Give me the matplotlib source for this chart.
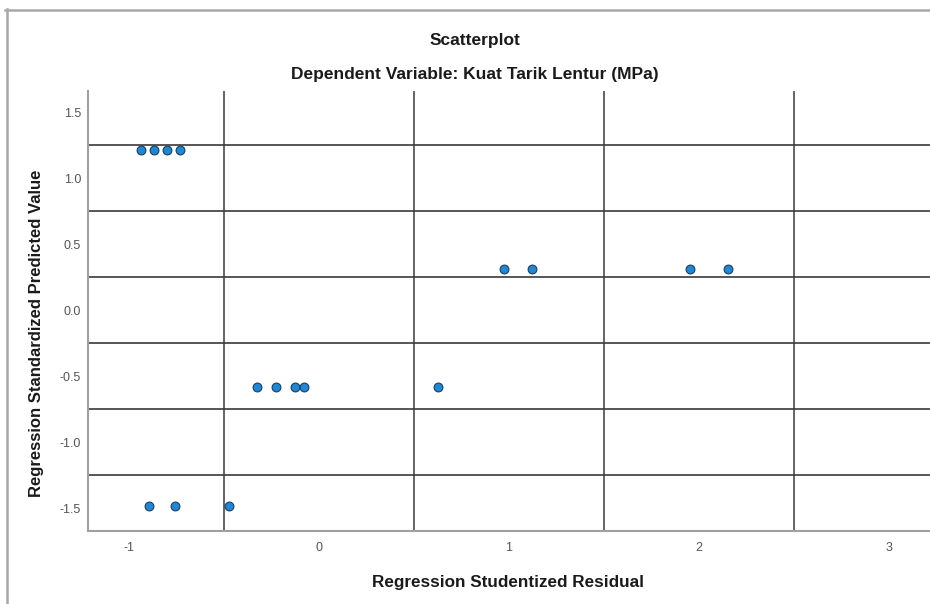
import matplotlib
matplotlib.use("Agg")
import matplotlib.pyplot as plt
from matplotlib.lines import Line2D

plt.rcParams['font.family'] = ['Liberation Sans', 'DejaVu Sans']

# studentized residual (x) vs standardized predicted value (y)
resid = [-0.937, -0.870, -0.802, -0.733,
         0.975, 1.121, 1.954, 2.151,
         -0.325, -0.225, -0.128, -0.077, 0.626,
         -0.896, -0.756, -0.474]
pred = [1.214, 1.214, 1.214, 1.214,
        0.313, 0.313, 0.313, 0.313,
        -0.583, -0.583, -0.583, -0.583, -0.583,
        -1.483, -1.483, -1.483]

xticks = [-1, 0, 1, 2, 3]
yticks = [-1.5, -1.0, -0.5, 0.0, 0.5, 1.0, 1.5]
xgrid = [-0.5, 0.5, 1.5, 2.5]
ygrid = [-1.25, -0.75, -0.25, 0.25, 0.75, 1.25]

W, H = 930, 604
fig = plt.figure(figsize=(W / 100, H / 100), dpi=100)
ax = fig.add_axes([88 / W, 1 - 531 / H, (W - 88) / W, (531 - 91) / H])

for g in xgrid:
    ax.axvline(g, color='#4a4a4a', lw=1.2, zorder=1)
for g in ygrid:
    ax.axhline(g, color='#3a3a3a', lw=1.2, zorder=1)

ax.scatter(resid, pred, s=40, c='#1e88d8', edgecolors='#1b3d5e',
           linewidths=0.8, zorder=3)

ax.set_xlim(-1.216, 3.216)
ax.set_ylim(-1.672, 1.661)
ax.set_xticks(xticks)
ax.set_xticklabels([str(t) for t in xticks])
ax.set_yticks(yticks)
ax.set_yticklabels(['%.1f' % t for t in yticks])
ax.tick_params(length=0, labelsize=9, colors='#555555')
ax.tick_params(axis='x', pad=8)
ax.tick_params(axis='y', pad=5)

for side in ['top', 'right']:
    ax.spines[side].set_visible(False)
for side in ['left', 'bottom']:
    ax.spines[side].set_color('#a0a0a0')
    ax.spines[side].set_linewidth(1.5)

fig.text(475 / W, 1 - 40 / H, 'Scatterplot', ha='center', va='center',
         fontsize=12.5, fontweight='bold', color='#1a1a1a')
fig.text(475 / W, 1 - 74 / H, 'Dependent Variable: Kuat Tarik Lentur (MPa)',
         ha='center', va='center', fontsize=12.5, fontweight='bold',
         color='#1a1a1a')
fig.text(508 / W, 1 - 582 / H, 'Regression Studentized Residual',
         ha='center', va='center', fontsize=12.3, fontweight='bold',
         color='#1a1a1a')
fig.text(36 / W, 1 - 333 / H, 'Regression Standardized Predicted Value',
         ha='center', va='center', rotation=90, fontsize=12,
         fontweight='bold', color='#1a1a1a')

# outer frame of the output pane
fig.add_artist(Line2D([5 / W, 1], [1 - 10 / H, 1 - 10 / H],
                      color='#a8a8a8', lw=1.8))
fig.add_artist(Line2D([7 / W, 7 / W], [0, 1 - 9 / H],
                      color='#a8a8a8', lw=1.8))

fig.savefig('out.png', dpi=100, facecolor='white')
